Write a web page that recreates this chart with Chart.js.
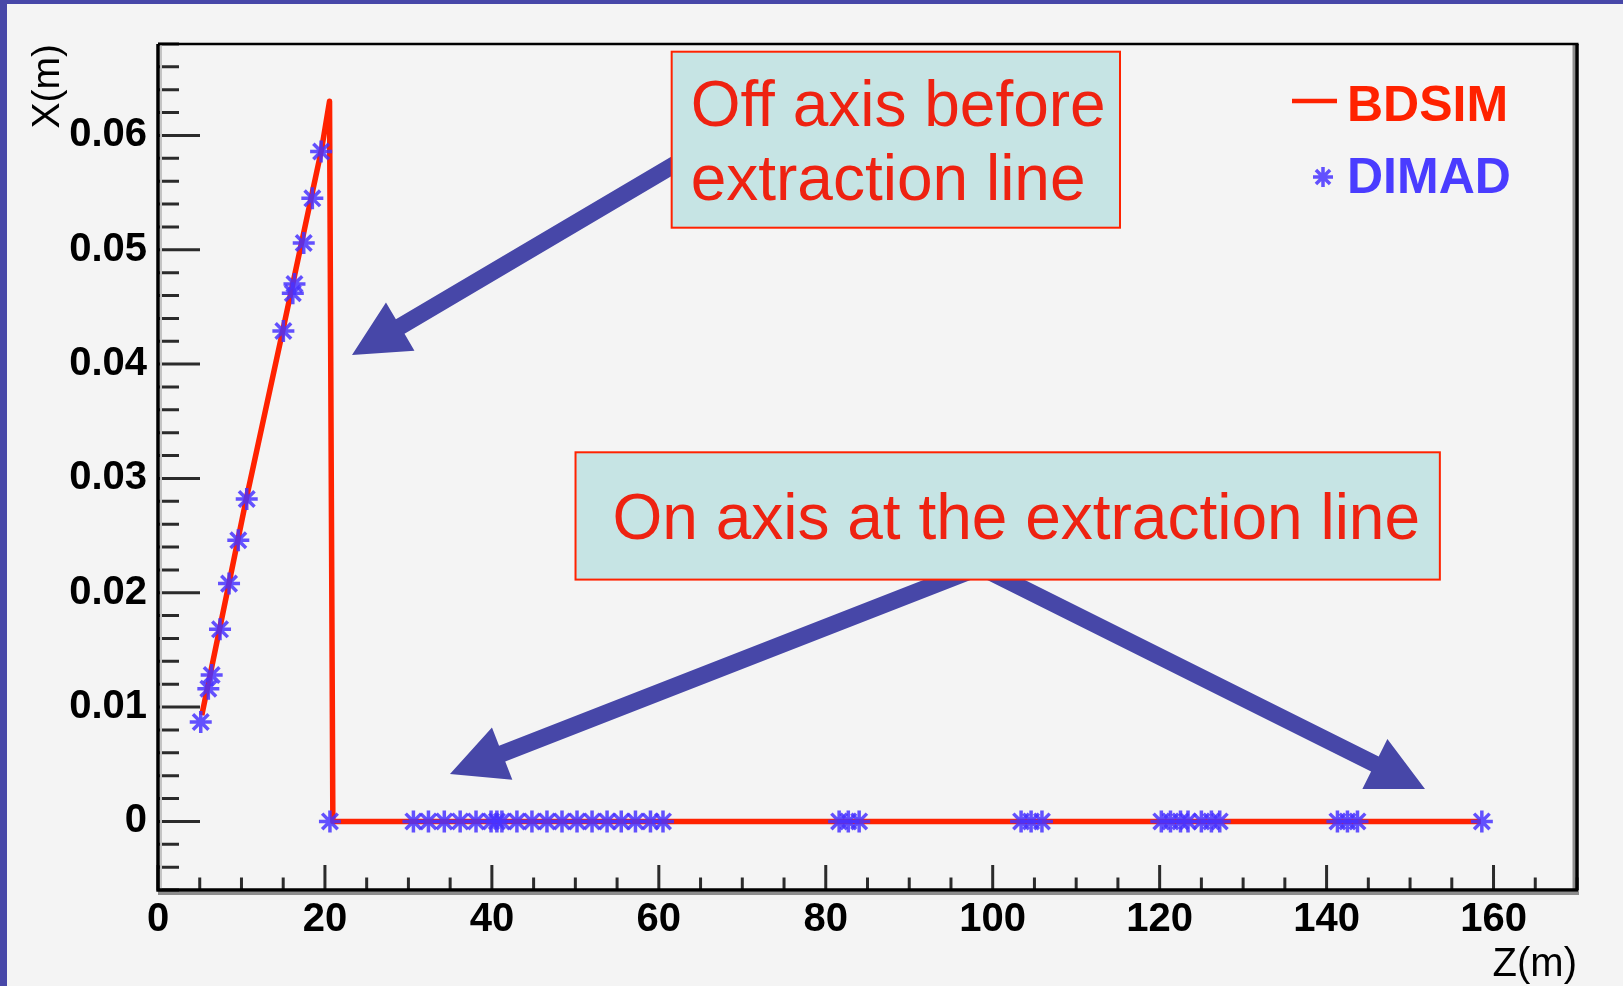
<!DOCTYPE html>
<html>
<head>
<meta charset="utf-8">
<title>Off axis before / on axis at the extraction line</title>
<script src="https://cdn.jsdelivr.net/npm/chart.js@4/dist/chart.umd.min.js"></script>
<style>
  html, body { margin: 0; padding: 0; background: #f4f4f4; overflow: hidden; }
  #wrap { position: relative; width: 1623px; height: 986px; }
  #c { position: absolute; left: 0; top: 0; }
  .edge { position: absolute; background: #4747a8; }
  .edge.left { left: 0; top: 0; width: 7px; height: 986px; }
  .edge.top { left: 0; top: 0; width: 1623px; height: 4px; }
</style>
</head>
<body>
<div id="wrap">
  <canvas id="c" width="1623" height="986"></canvas>
  <div class="edge left"></div>
  <div class="edge top"></div>
</div>
<script>
// Horizontal beam offset X (m) against path length Z (m)

// BDSIM tracking: a continuous trajectory
const bdsimZ = [5.25, 8.5, 10.6, 15.0, 19.6, 20.55, 20.95, 158.5];
const bdsimX = [0.0093, 0.0208, 0.0283, 0.0431, 0.0588, 0.0630, 0, 0];

// DIMAD: values at element positions
const dimadZ = [
  5.12, 6.03, 6.43, 7.43, 8.51, 9.62, 10.63, 15.02, 16.15, 16.35, 17.46, 18.49, 19.54,
  20.6, 30.6, 32.4, 34.3, 36.2, 38.1, 39.9, 40.6, 41.2, 43.0, 44.8, 46.6, 48.4, 50.2,
  52.0, 53.8, 55.5, 57.2, 59.0, 60.5,
  81.6, 82.7, 84.0,
  103.4, 104.6, 105.9,
  120.2, 121.3, 122.5, 123.4, 125.0, 126.2, 127.2,
  141.3, 142.5, 143.7,
  158.6
];
const dimadX = [
  0.0087, 0.0116, 0.0128, 0.0168, 0.0208, 0.0246, 0.0282, 0.0429, 0.0462, 0.0470, 0.0506, 0.0545, 0.0586,
  0, 0, 0, 0, 0, 0, 0, 0, 0, 0, 0, 0, 0, 0,
  0, 0, 0, 0, 0, 0,
  0, 0, 0,
  0, 0, 0,
  0, 0, 0, 0, 0, 0, 0,
  0, 0, 0,
  0
];

// Labelled (major) ticks
const zTickLabels = [0, 20, 40, 60, 80, 100, 120, 140, 160];
const xTickLabels = [0, 0.01, 0.02, 0.03, 0.04, 0.05, 0.06];

const seriesNames = ['BDSIM', 'DIMAD'];

// ---------------------------------------------------------------------------
const FONT = '"Liberation Sans", Arial, Helvetica, sans-serif';
const RED = '#ff2200';
const BLUE = 'rgba(72, 50, 255, 0.85)';
const BLUE_TEXT = '#4a3cff';
const ARROW = '#4747a8';

const toPoints = (zs, xs) => zs.map((z, i) => ({ x: z, y: xs[i] }));

// Annotations, anchored in data coordinates (Z, X)
const noteBoxes = [
  { z0: 61.54, z1: 115.25, x0: 0.051932, x1: 0.067326, padLeft: 19,
    lines: ['Off axis before', 'extraction line'] },
  { z0: 50.02, z1: 153.57, x0: 0.021151, x1: 0.032286, padLeft: 37,
    lines: ['On axis at the extraction line'] }
];
const noteArrows = [
  { from: [64.93, 0.058772], to: [23.24, 0.040797] },
  { from: [99.12, 0.022428], to: [34.98, 0.004146] },
  { from: [98.00, 0.022428], to: [151.79, 0.002835] }
];

function minorTicks(lo, hi, step, scale) {
  // integer stepping keeps the values exact decimals
  const out = [];
  const a = Math.round(lo * scale), b = Math.round(hi * scale), s = Math.round(step * scale);
  for (let k = a; k <= b; k += s) out.push({ value: k / scale });
  return out;
}

// Inward ROOT-style tick marks and the frame
const framePlugin = {
  id: 'frame',
  beforeDatasetsDraw(chart) {
    const { ctx, chartArea: a } = chart;
    const xs = chart.scales.x, ys = chart.scales.y;
    ctx.save();
    ctx.strokeStyle = '#2b2b2b';
    ctx.lineWidth = 3;
    ctx.beginPath();
    xs.ticks.forEach((t, i) => {
      const p = xs.getPixelForTick(i);
      const L = t.label !== '' ? 25 : 12.5;
      ctx.moveTo(p, a.bottom);
      ctx.lineTo(p, a.bottom - L);
    });
    ys.ticks.forEach((t, i) => {
      const p = ys.getPixelForTick(i);
      const L = t.label !== '' ? 42 : 21;
      ctx.moveTo(a.left, p);
      ctx.lineTo(a.left + L, p);
    });
    ctx.stroke();

    // shading next to the frame
    ctx.lineWidth = 3;
    ctx.strokeStyle = '#8c8c8c';
    ctx.beginPath();
    ctx.moveTo(a.left, a.bottom + 3.5); ctx.lineTo(a.right + 2, a.bottom + 3.5);
    ctx.moveTo(a.right - 3, a.top); ctx.lineTo(a.right - 3, a.bottom);
    ctx.stroke();
    ctx.strokeStyle = '#c4c4c4';
    ctx.lineWidth = 2;
    ctx.beginPath();
    ctx.moveTo(a.left + 3, a.top); ctx.lineTo(a.left + 3, a.bottom);
    ctx.stroke();

    ctx.strokeStyle = '#000';
    ctx.lineWidth = 3.5;
    ctx.beginPath();
    ctx.moveTo(a.left, a.top); ctx.lineTo(a.left, a.bottom + 1.5);
    ctx.moveTo(a.left - 1.5, a.bottom); ctx.lineTo(a.right + 1.5, a.bottom);
    ctx.moveTo(a.right, a.bottom); ctx.lineTo(a.right, a.top);
    ctx.stroke();
    ctx.lineWidth = 2.5;
    ctx.beginPath();
    ctx.moveTo(a.left, a.top); ctx.lineTo(a.right + 1.5, a.top);
    ctx.stroke();
    ctx.restore();
  }
};

function drawStar(ctx, x, y, r, color, lw) {
  ctx.save();
  ctx.strokeStyle = color;
  ctx.lineWidth = lw;
  ctx.beginPath();
  for (let k = 0; k < 4; k++) {
    const ang = k * Math.PI / 4;
    const dx = Math.cos(ang) * r, dy = Math.sin(ang) * r;
    ctx.moveTo(x - dx, y - dy);
    ctx.lineTo(x + dx, y + dy);
  }
  ctx.stroke();
  ctx.restore();
}

// Legend, arrows and text boxes
const notesPlugin = {
  id: 'notes',
  afterDraw(chart) {
    const { ctx, chartArea: a } = chart;
    const xs = chart.scales.x, ys = chart.scales.y;
    const P = (z, v) => [xs.getPixelForValue(z), ys.getPixelForValue(v)];
    const ds = chart.data.datasets;

    // legend
    ctx.save();
    ctx.strokeStyle = ds[1].borderColor;
    ctx.lineWidth = 4.5;
    ctx.beginPath();
    ctx.moveTo(a.right - 285, a.top + 57);
    ctx.lineTo(a.right - 240, a.top + 57);
    ctx.stroke();
    drawStar(ctx, a.right - 254, a.top + 133, 10, ds[0].pointBorderColor, 3.5);
    ctx.font = 'bold 50px ' + FONT;
    ctx.textBaseline = 'alphabetic';
    ctx.textAlign = 'left';
    ctx.fillStyle = RED;
    ctx.fillText(ds[1].label, a.right - 230, a.top + 76.5);
    ctx.fillStyle = BLUE_TEXT;
    ctx.fillText(ds[0].label, a.right - 230, a.top + 148.7);
    ctx.restore();

    // arrows
    ctx.save();
    ctx.fillStyle = ARROW;
    noteArrows.forEach(ar => {
      const [x0, y0] = P(ar.from[0], ar.from[1]);
      const [x1, y1] = P(ar.to[0], ar.to[1]);
      const len = Math.hypot(x1 - x0, y1 - y0);
      const ux = (x1 - x0) / len, uy = (y1 - y0) / len;
      const nx = -uy, ny = ux;
      const w = 8.5, H = 28, L = 56;
      const bx = x1 - ux * L, by = y1 - uy * L;
      ctx.beginPath();
      ctx.moveTo(x0 + nx * w, y0 + ny * w);
      ctx.lineTo(bx + nx * w, by + ny * w);
      ctx.lineTo(bx + nx * H, by + ny * H);
      ctx.lineTo(x1, y1);
      ctx.lineTo(bx - nx * H, by - ny * H);
      ctx.lineTo(bx - nx * w, by - ny * w);
      ctx.lineTo(x0 - nx * w, y0 - ny * w);
      ctx.closePath();
      ctx.fill();
    });
    ctx.restore();

    // text boxes
    ctx.save();
    noteBoxes.forEach(b => {
      const [l, t] = P(b.z0, b.x1);
      const [r, bt] = P(b.z1, b.x0);
      ctx.fillStyle = '#c6e4e4';
      ctx.fillRect(l, t, r - l, bt - t);
      ctx.strokeStyle = RED;
      ctx.lineWidth = 2;
      ctx.strokeRect(l, t, r - l, bt - t);
      ctx.fillStyle = '#ee2211';
      ctx.font = '64px ' + FONT;
      ctx.textAlign = 'left';
      ctx.textBaseline = 'alphabetic';
      const cy = (t + bt) / 2, cap = 0.716 * 64, gap = 74;
      const n = b.lines.length;
      b.lines.forEach((s, i) => {
        ctx.fillText(s, l + b.padLeft, cy + cap / 2 + (i - (n - 1) / 2) * gap);
      });
    });
    ctx.restore();
  }
};

new Chart(document.getElementById('c'), {
  type: 'scatter',
  data: {
    datasets: [
      {
        label: seriesNames[1],
        data: toPoints(dimadZ, dimadX),
        showLine: false,
        pointStyle: 'star',
        pointRadius: 11,
        pointBorderWidth: 3.5,
        pointBorderColor: BLUE,
        pointBackgroundColor: BLUE,
        order: 0
      },
      {
        label: seriesNames[0],
        data: toPoints(bdsimZ, bdsimX),
        showLine: true,
        borderColor: RED,
        borderWidth: 5.5,
        borderJoinStyle: 'round',
        pointRadius: 0,
        tension: 0,
        order: 1
      }
    ]
  },
  options: {
    responsive: false,
    devicePixelRatio: 1,
    animation: false,
    layout: { padding: { left: 0, top: 44, right: 46, bottom: 0 } },
    plugins: {
      legend: { display: false },
      title: { display: false },
      tooltip: { enabled: false }
    },
    scales: {
      x: {
        type: 'linear',
        position: 'bottom',
        min: 0,
        max: 170,
        afterBuildTicks: s => { s.ticks = minorTicks(0, 170, 5, 1); },
        afterFit: s => { s.height = 96; },
        grid: { display: false, drawTicks: false },
        border: { display: false },
        ticks: {
          autoSkip: false,
          maxRotation: 0,
          minRotation: 0,
          padding: 6,
          color: '#000',
          font: { family: FONT, size: 40, weight: 'bold' },
          callback: v => (zTickLabels.includes(v) ? String(v) : '')
        },
        title: {
          display: true,
          text: 'Z(m)',
          align: 'end',
          color: '#000',
          font: { family: FONT, size: 40, lineHeight: 1 },
          padding: { top: 0, bottom: 1 }
        }
      },
      y: {
        type: 'linear',
        position: 'left',
        min: -0.006,
        max: 0.068,
        afterBuildTicks: s => { s.ticks = minorTicks(-0.006, 0.068, 0.002, 1000); },
        afterFit: s => { s.width = 158; },
        grid: { display: false, drawTicks: false },
        border: { display: false },
        ticks: {
          autoSkip: false,
          padding: 11,
          color: '#000',
          font: { family: FONT, size: 40, weight: 'bold' },
          callback: v => (xTickLabels.includes(v) ? String(v) : '')
        },
        title: {
          display: true,
          text: 'X(m)',
          align: 'end',
          color: '#000',
          font: { family: FONT, size: 39, lineHeight: 1 },
          padding: { top: 29, bottom: 0 }
        }
      }
    }
  },
  plugins: [framePlugin, notesPlugin]
});
</script>
</body>
</html>
